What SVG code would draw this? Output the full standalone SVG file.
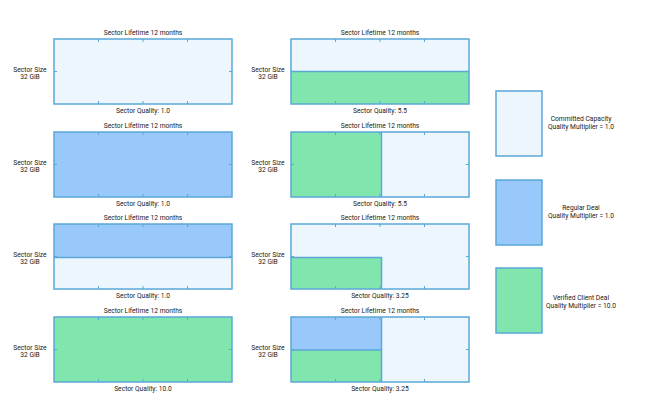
<svg xmlns="http://www.w3.org/2000/svg" width="647" height="401" viewBox="0 0 647 401">
<style>
text{font-family:Roboto,"Liberation Sans",sans-serif;font-size:6.7px;fill:#222;text-anchor:middle}
.b{stroke:#5aa8d8;stroke-width:1.5}
path.b{fill:none}
.cc{fill:#eef6fd}
.rd{fill:#99c9fb}
.vd{fill:#80e6ad}
.t{stroke:#5aa8d8;stroke-width:1;fill:none}
</style>
<defs>
<path id="ticks" class="t" d="M44.5 0v3M89 0v3M133.5 0v3M44.5 65v-3M89 65v-3M133.5 65v-3M0 32.5h3M178 32.5h-3"/>
</defs>
<rect width="647" height="401" fill="#fff"/>
<g id="s1">
<text x="143" y="35">Sector Lifetime 12 months</text>
<text x="30" y="71.5">Sector Size</text><text x="30" y="79">32 GiB</text>
<rect class="b cc" x="54" y="39" width="178" height="65"/>
<use href="#ticks" x="54" y="39"/>
<text x="143" y="112.5">Sector Quality: 1.0</text>
</g>
<g id="s2">
<text x="143" y="128">Sector Lifetime 12 months</text>
<text x="30" y="164.5">Sector Size</text><text x="30" y="172">32 GiB</text>
<rect class="b rd" x="54" y="132" width="178" height="65"/>
<use href="#ticks" x="54" y="132"/>
<text x="143" y="205.5">Sector Quality: 1.0</text>
</g>
<g id="s3">
<text x="143" y="220">Sector Lifetime 12 months</text>
<text x="30" y="256.5">Sector Size</text><text x="30" y="264">32 GiB</text>
<rect class="cc" x="54" y="224" width="178" height="65"/>
<rect class="rd" x="54" y="224" width="178" height="33"/>
<rect class="b" fill="none" x="54" y="224" width="178" height="65"/>
<path class="b" d="M54 257.5h178"/>
<use href="#ticks" x="54" y="224"/>
<text x="143" y="297.5">Sector Quality: 1.0</text>
</g>
<g id="s4">
<text x="143" y="313">Sector Lifetime 12 months</text>
<text x="30" y="349.5">Sector Size</text><text x="30" y="357">32 GiB</text>
<rect class="b vd" x="54" y="317" width="178" height="65"/>
<use href="#ticks" x="54" y="317"/>
<text x="143" y="390.5">Sector Quality: 10.0</text>
</g>
<g id="s5">
<text x="380" y="35">Sector Lifetime 12 months</text>
<text x="268" y="71.5">Sector Size</text><text x="268" y="79">32 GiB</text>
<rect class="cc" x="291" y="39" width="178" height="65"/>
<rect class="vd" x="291" y="71.5" width="178" height="32.5"/>
<use href="#ticks" x="291" y="39"/>
<rect class="b" fill="none" x="291" y="39" width="178" height="65"/>
<path class="b" d="M291 71.5h178"/>
<text x="380" y="112.5">Sector Quality: 5.5</text>
</g>
<g id="s6">
<text x="380" y="128">Sector Lifetime 12 months</text>
<text x="268" y="164.5">Sector Size</text><text x="268" y="172">32 GiB</text>
<rect class="cc" x="291" y="132" width="178" height="65"/>
<rect class="vd" x="291" y="132" width="90.5" height="65"/>
<use href="#ticks" x="291" y="132"/>
<rect class="b" fill="none" x="291" y="132" width="178" height="65"/>
<path class="b" d="M381.5 132v65"/>
<text x="380" y="205.5">Sector Quality: 5.5</text>
</g>
<g id="s7">
<text x="380" y="220">Sector Lifetime 12 months</text>
<text x="268" y="256.5">Sector Size</text><text x="268" y="264">32 GiB</text>
<rect class="cc" x="291" y="224" width="178" height="65"/>
<rect class="vd" x="291" y="257.5" width="90.5" height="31.5"/>
<use href="#ticks" x="291" y="224"/>
<rect class="b" fill="none" x="291" y="224" width="178" height="65"/>
<path class="b" d="M291 257.5h90.5v31.5"/>
<text x="380" y="297.5">Sector Quality: 3.25</text>
</g>
<g id="s8">
<text x="380" y="313">Sector Lifetime 12 months</text>
<text x="268" y="349.5">Sector Size</text><text x="268" y="357">32 GiB</text>
<rect class="cc" x="291" y="317" width="178" height="65"/>
<rect class="rd" x="291" y="317" width="90.5" height="33"/>
<rect class="vd" x="291" y="350" width="90.5" height="32"/>
<use href="#ticks" x="291" y="317"/>
<rect class="b" fill="none" x="291" y="317" width="178" height="65"/>
<path class="b" d="M381.5 317v65M291 350h90.5"/>
<text x="380" y="390.5">Sector Quality: 3.25</text>
</g>
<g id="legend-cc">
<rect class="b cc" x="496" y="91" width="46" height="65"/>
<text x="581" y="121">Committed Capacity</text><text x="581" y="129">Quality Multiplier = 1.0</text>
</g>
<g id="legend-rd">
<rect class="b rd" x="496" y="180" width="46" height="65"/>
<text x="581" y="210">Regular Deal</text><text x="581" y="218">Quality Multiplier = 1.0</text>
</g>
<g id="legend-vd">
<rect class="b vd" x="496" y="268" width="46" height="65"/>
<text x="581" y="299.5">Verified Client Deal</text><text x="581" y="307.5">Quality Multiplier = 10.0</text>
</g>
<g id="connectors"/>
</svg>
